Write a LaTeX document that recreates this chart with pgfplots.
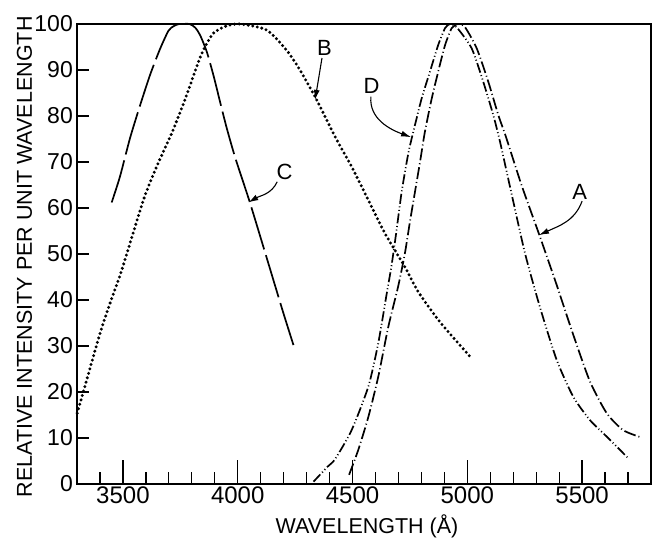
\documentclass[border=0pt]{standalone}
\usepackage{fontspec}
\setmainfont{Liberation Sans}
\usepackage{pgfplots}
\pgfplotsset{compat=1.18}
\usetikzlibrary{arrows.meta}
\begin{document}
\begin{tikzpicture}
\begin{axis}[
  name=ax,
  scale only axis, width=574bp, height=460bp,
  xmin=3300, xmax=5800, ymin=0, ymax=100,
  axis line style={line width=1.5bp},
  xtick={3500,4000,4500,5000,5500},
  minor xtick={3400,3600,3700,3800,3900,4100,4200,4300,4400,4600,4700,4800,4900,5100,5200,5300,5400,5600,5700},
  ytick={0,10,...,100},
  minor ytick={10,20,...,90},
  xtick pos=left, ytick pos=left,
  tick align=inside,
  major tick length=24bp, minor tick length=12bp,
  major y tick style={draw=none},
  every tick/.style={line width=1.3bp, black},
  /pgf/number format/assume math mode=true,
  /pgf/number format/1000 sep={},
  tick label style={inner sep=0pt},
  xticklabel style={anchor=north, yshift=-3bp, font=\fontsize{24bp}{28bp}\selectfont},
  yticklabel style={anchor=east, xshift=-4bp, font=\fontsize{23bp}{27bp}\selectfont},
  xlabel={WAVELENGTH (Å)},
  ylabel={RELATIVE INTENSITY PER UNIT WAVELENGTH},
  every axis x label/.style={at={(rel axis cs:0.5,0)}, anchor=base, xshift=3bp, yshift=-49bp, inner sep=0pt, font=\fontsize{21.5bp}{25bp}\selectfont},
  every axis y label/.style={at={(rel axis cs:0,0.5)}, xshift=-45bp, yshift=-3bp, rotate=90, anchor=base, inner sep=0pt, font=\fontsize{21.5bp}{25bp}\selectfont},
  clip=false,
]
% C : long dashes
\addplot[black, line width=1.7bp, dash pattern=on 44bp off 6bp, smooth, tension=0.4] coordinates {
(3451,61.2) (3487,66.8) (3531,75.2) (3574,82.2) (3618,88.9) (3661,94.5) (3698,98.5)
(3720,99.5) (3745,100) (3790,100) (3815,99.2) (3836,97.6) (3865,94) (3894,88.9)
(3923,83.1) (3952,77.4) (3990,70.8) (4053,61.2) (4126,49.2)
(4198,37.3) (4246,29.7)};
% B : dotted
\addplot[black, line width=3.3bp, line cap=round, dash pattern=on 0bp off 4.6bp, smooth, tension=0.4] coordinates {
(3301,15.4) (3328,20.1) (3400,32.7) (3444,39.3) (3495,46.5) (3589,61.7) (3647,69.0)
(3712,76.2) (3770,83.5) (3821,90.7) (3850,94.3) (3894,98.0) (3952,99.6) (4010,100)
(4126,98.7) (4213,94.3) (4271,90.0) (4344,83.5) (4424,75.5) (4496,69.0) (4569,61.7)
(4641,54.5) (4728,47.2) (4786,41.8) (4881,35.2) (5019,27.3)};
% D : dash-dot-dot
\addplot[black, line width=1.7bp, dash pattern=on 10bp off 2.6bp on 1bp off 2.6bp on 1bp off 2.6bp, smooth, tension=0.4] coordinates {
(4330,0.5) (4392,3.8) (4424,5.4) (4496,11.7) (4569,21.2) (4612,30.6) (4649,41.4)
(4670,47.5) (4690,54.5) (4714,63.5) (4743,71.9) (4765,76.6) (4801,83.8) (4837,89.6)
(4873,95.4) (4903,99.1) (4925,100) (4955,99.2) (5019,94.7) (5069,87.5) (5113,80.2)
(5142,74.5) (5186,64.6) (5251,50.2) (5316,38.5) (5389,27) (5461,19) (5534,13.9)
(5607,10.3) (5705,5.4)};
% A : dash-dot
\addplot[black, line width=1.7bp, dash pattern=on 12bp off 3bp on 1bp off 3bp, smooth, tension=0.4] coordinates {
(4485,2) (4525,7.4) (4569,14.6) (4612,23.3) (4656,34.2) (4699,43) (4728,50.1)
(4750,57) (4772,63.5) (4794,70) (4815,76.5) (4845,83.8) (4873,89.6) (4903,95.4)
(4932,99.1) (4960,100) (4990,99.3) (5041,94.7) (5091,87.5) (5135,80.2) (5168,75.5)
(5236,65) (5309,54.8) (5353,48.5) (5389,43.3) (5461,32.5) (5534,22.3) (5607,15.4)
(5679,11.7) (5759,10.1)};
% labels and arrows
\begin{scope}[font=\fontsize{22bp}{26bp}\selectfont]
\node at (axis cs:5490,63.5) {A};
\node at (axis cs:4378,94.9) {B};
\node at (axis cs:4204,67.9) {C};
\node at (axis cs:4583,86.6) {D};
\end{scope}
\draw[line width=1.1bp, -{Latex[length=10bp,width=6bp]}] (axis cs:5500,61.5) to[out=-110,in=25] (axis cs:5312,54.1);
\draw[line width=1.1bp, -{Latex[length=10bp,width=6bp]}] (axis cs:4367,92.6) to (axis cs:4337,83.5);
\draw[line width=1.1bp, -{Latex[length=10bp,width=6bp]}] (axis cs:4172,65.7) to[out=-115,in=30] (axis cs:4046,61.2);
\draw[line width=1.1bp, -{Latex[length=10bp,width=6bp]}] (axis cs:4580,84.2) to[out=-95,in=160] (axis cs:4755,75.4);
\end{axis}
\pgfresetboundingbox
\path[use as bounding box] ([shift={(-77bp,-63bp)}]ax.south west) rectangle ([shift={(19bp,24bp)}]ax.north east);
\end{tikzpicture}
\end{document}
